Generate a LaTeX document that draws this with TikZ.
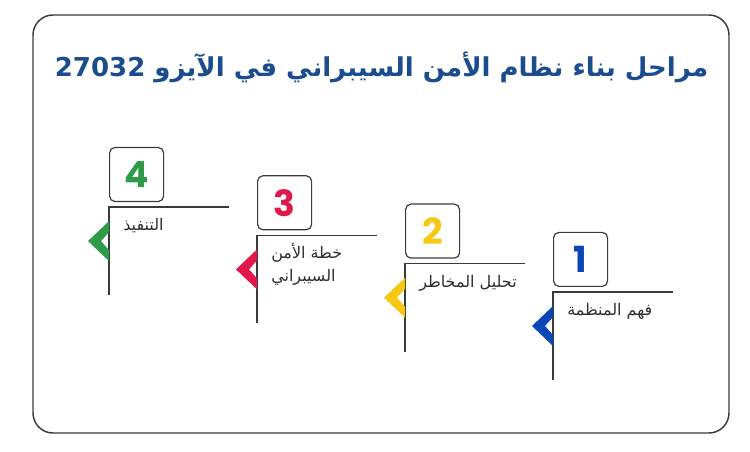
\documentclass[tikz,border=0pt]{standalone}
\usepackage{fontspec}
\usepackage{tikz}
\usetikzlibrary{calc}
\TeXXeTstate=1
\newfontfamily\arabicfont[Script=Arabic]{DejaVu Sans}
\newfontfamily\digitfont{Poppins Bold}
\definecolor{titleblue}{HTML}{1B4C8E}
\definecolor{framegray}{HTML}{3A3A3A}
\definecolor{textgray}{HTML}{2E2E2E}
\definecolor{stepblue}{HTML}{0B46B6}
\definecolor{stepyellow}{HTML}{F6C813}
\definecolor{stepred}{HTML}{E2184C}
\definecolor{stepgreen}{HTML}{2F9A4A}
\newcommand{\createchev}[2]{\fill[#2] ($(#1)+(0,14)$) -- ++(-21,20) -- ++(21,20) -- ++(0,-11) -- ++(-8,-9) -- ++(8,-9) -- cycle;}
\tikzset{
  frame/.style={draw=framegray, line width=1.1pt, rounded corners=15pt},
  stepline/.style={draw=framegray, line width=1.1pt},
  numbox/.style={draw=framegray, line width=0.9pt, rounded corners=4pt, minimum width=40.5pt, minimum height=40.5pt, inner sep=0pt, font=\digitfont\fontsize{27}{27}\selectfont},
  steplabel/.style={text=textgray, inner sep=0pt, align=left, anchor=base west, font=\arabicfont\fontsize{12}{17}\selectfont},
  titletext/.style={text=titleblue, inner sep=0pt, anchor=base, font=\arabicfont\bfseries\fontsize{19.5}{24}\selectfont}
}

\begin{document}
\begin{tikzpicture}[x=0.75pt, y=-0.75pt]
    \useasboundingbox (0,0) rectangle (750,452);
    \draw[frame] (33,15) rectangle (729,433);
    \node[titletext] (title) at (381.5,77) {\beginR مراحل بناء نظام الأمن السيبراني في الآيزو \beginL 27032\endL\endR};
    \foreach \n/\col in {1/stepblue, 2/stepyellow, 3/stepred, 4/stepgreen} {
    \pgfmathsetmacro\xx{553-148*(\n-1)}
    \pgfmathsetmacro\yy{292-28.3*(\n-1)}
    \coordinate (c\n) at (\xx,\yy);
    \coordinate (e\n) at (\xx+120,\yy);
    \coordinate (b\n) at (\xx,\yy+88);
    \draw[stepline] (e\n) -- (c\n) -- (b\n);
    \createchev{c\n}{\col}
    \node[numbox, text=\col, anchor=south west] (num\n) at ($(c\n)+(0,-5)$) {\n};}
    %labels (base of a two-line node is its last line)
    \node[steplabel] (lbl1) at ($(c1)+(14,23.5)$) {\beginR فهم المنظمة\endR};
    \node[steplabel] (lbl2) at ($(c2)+(14,23.5)$) {\beginR تحليل المخاطر\endR};
    \node[steplabel] (lbl3) at ($(c3)+(14,46)$) {\beginR خطة الأمن\endR\\\beginR السيبراني\endR};
    \node[steplabel] (lbl4) at ($(c4)+(14,23.5)$) {\beginR التنفيذ\endR};
\end{tikzpicture}
\end{document}
